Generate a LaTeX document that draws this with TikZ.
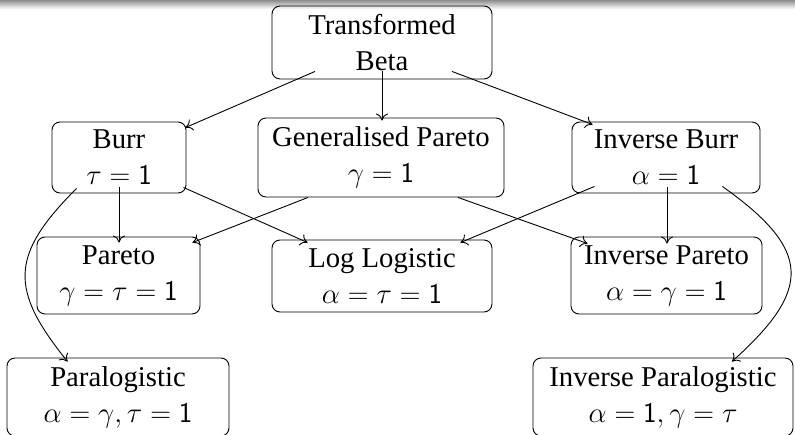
\RequirePackage{fix-cm}
\documentclass[tikz,border=0pt]{standalone}
\usepackage{fontspec}
\setmainfont{Liberation Serif}
\usetikzlibrary{arrows.meta,calc}
\tikzset{
  box/.style={draw, rounded corners=8pt, line width=0.9pt, align=center, inner sep=0pt,
    font=\fontsize{28.7}{36}\selectfont},
  conn/.style={line width=0.9pt, -{To[length=7pt,width=12pt]}},
}
\begin{document}
\begin{tikzpicture}[x=1pt,y=-1pt]
\useasboundingbox (0,0) rectangle (795,435);
\shade[top color=black!45, bottom color=white] (0,0) rectangle (795,9);
% nodes
\node[box, minimum width=220pt, minimum height=73pt] (tb) at (382,42.5) {Transformed\\Beta};
\node[box, minimum width=134pt, minimum height=71pt] (burr) at (119,157.5) {Burr\\$\tau=\mathsf{1}$};
\node[box, minimum width=246pt, minimum height=79pt] (gp) at (381,157.5) {Generalised Pareto\\$\gamma=\mathsf{1}$};
\node[box, minimum width=188pt, minimum height=71pt] (ib) at (666,157.5) {Inverse Burr\\$\alpha=\mathsf{1}$};
\node[box, minimum width=163pt, minimum height=77pt] (pareto) at (118.5,275.5) {Pareto\\$\gamma=\tau=\mathsf{1}$};
\node[box, minimum width=220pt, minimum height=72pt] (ll) at (382,276) {Log Logistic\\$\alpha=\tau=\mathsf{1}$};
\node[box, minimum width=191pt, minimum height=77pt] (ip) at (666.5,275.5) {Inverse Pareto\\$\alpha=\gamma=\mathsf{1}$};
\node[box, minimum width=222pt, minimum height=78pt] (para) at (118,397) {Paralogistic\\$\alpha=\gamma,\tau=\mathsf{1}$};
\node[box, minimum width=260pt, minimum height=78pt] (ipara) at (663,397) {Inverse Paralogistic\\$\alpha=\mathsf{1},\gamma=\tau$};
% connectors
\draw[conn] ($(tb.south)+(-67,-8)$) -- ($(burr.north east)+(-1,6)$);
\draw[conn] ($(tb.south)+(0,-8)$) -- ($(tb.south |- gp.north)+(0,3)$);
\draw[conn] ($(tb.south)+(70,-8)$) -- ($(ib.north west)+(21,3)$);
\draw[conn] ($(burr.south)+(0,-6)$) -- ($(burr.south |- pareto.north)+(0,6)$);
\draw[conn] ($(burr.south east)+(-3,-6)$) -- ($(ll.north west)+(36,3)$);
\draw[conn] ($(gp.south)+(-73,0)$) -- ($(pareto.north east)+(-8,6)$);
\draw[conn] ($(gp.south)+(77,0)$) -- ($(ip.north west)+(17,7)$);
\draw[conn] ($(ib.south west)+(23,-7)$) -- ($(ll.north east)+(-32,3)$);
\draw[conn] ($(ib.south)+(1,-6)$) -- ($(ib.south |- ip.north)+(1,7)$);
\draw[conn] ($(burr.south west)+(25,-5)$) .. controls +(-67,67) and +(-58,-72) .. ($(para.north west)+(61,4)$);
\draw[conn] ($(ib.south east)+(-38,-7)$) .. controls +(90,64) and +(80,-72) .. ($(ipara.north)+(69,4)$);
\end{tikzpicture}
\end{document}
